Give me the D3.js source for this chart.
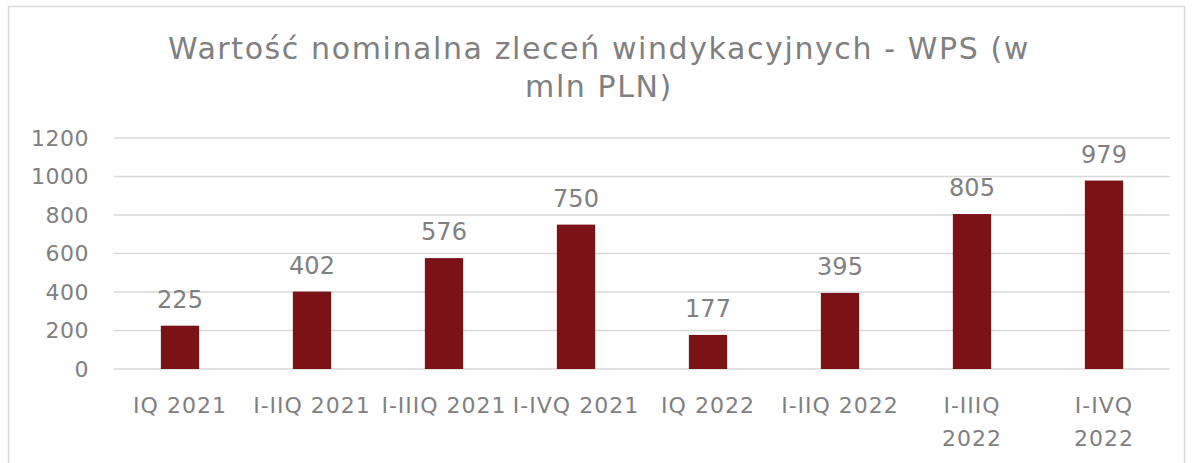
<!DOCTYPE html>
<html>
<head>
<meta charset="utf-8">
<script src="https://cdn.jsdelivr.net/npm/d3@7"></script>
<style>
  body { margin: 0; background: #fff; }
  text { font-family: "DejaVu Sans", sans-serif; fill: #808080; }
</style>
</head>
<body>
<div id="chart"></div>
<script>
// data
var categories = ["IQ 2021", "I-IIQ 2021", "I-IIIQ 2021", "I-IVQ 2021", "IQ 2022", "I-IIQ 2022", "I-IIIQ\n2022", "I-IVQ\n2022"];
var values = [225, 402, 576, 750, 177, 395, 805, 979];
var yTicks = [0, 200, 400, 600, 800, 1000, 1200];
var titleLines = ["Wartość nominalna zleceń windykacyjnych - WPS (w", "mln PLN)"];

var width = 1192, height = 463;
var svg = d3.select("#chart").append("svg")
    .attr("width", width)
    .attr("height", height);

// outer frame
svg.append("rect")
    .attr("x", 8.5).attr("y", 6.5)
    .attr("width", 1176).attr("height", 470)
    .attr("fill", "none")
    .attr("stroke", "#d9d9d9")
    .attr("stroke-width", 1.5);

var x = d3.scaleBand()
    .domain(categories)
    .range([114, 1170])
    .paddingInner(0.71)
    .paddingOuter(0.355);

var y = d3.scaleLinear()
    .domain([0, 1200])
    .range([369, 138]);

// title
svg.append("text")
    .attr("x", 597).attr("y", 59)
    .attr("text-anchor", "middle")
    .style("font-size", "30px")
    .style("letter-spacing", "1.6px")
    .selectAll("tspan")
    .data(titleLines)
    .enter()
    .append("tspan")
    .attr("x", 599)
    .attr("dy", function (d, i) { return i === 0 ? 0 : 38; })
    .text(function (d) { return d; });

// gridlines
svg.append("g")
    .selectAll("line")
    .data(yTicks)
    .enter()
    .append("line")
    .attr("x1", 114).attr("x2", 1170)
    .attr("y1", function (d) { return y(d); })
    .attr("y2", function (d) { return y(d); })
    .attr("stroke", "#d9d9d9")
    .attr("stroke-width", 1.5);

// y axis labels
var yAxis = svg.append("g")
    .attr("transform", "translate(89,0)")
    .call(d3.axisLeft(y).tickValues(yTicks).tickFormat(d3.format("d")).tickSize(0).tickPadding(0));
yAxis.select(".domain").remove();
yAxis.selectAll("text")
    .style("font-size", "22px")
    .style("letter-spacing", "0.5px")
    .attr("fill", "#808080");

// bars
svg.append("g")
    .selectAll("rect")
    .data(values)
    .enter()
    .append("rect")
    .attr("x", function (d, i) { return x(categories[i]); })
    .attr("y", function (d) { return y(d); })
    .attr("width", x.bandwidth())
    .attr("height", function (d) { return y(0) - y(d); })
    .attr("fill", "#7b1216");

// value labels
svg.append("g")
    .selectAll("text")
    .data(values)
    .enter()
    .append("text")
    .attr("x", function (d, i) { return x(categories[i]) + x.bandwidth() / 2; })
    .attr("y", function (d) { return y(d) - 18; })
    .attr("text-anchor", "middle")
    .style("font-size", "24px")
    .text(function (d) { return d; });

// x axis labels
var xLab = svg.append("g")
    .selectAll("text")
    .data(categories)
    .enter()
    .append("text")
    .attr("text-anchor", "middle")
    .attr("y", 413)
    .style("font-size", "22px")
    .style("letter-spacing", "1px");
xLab.each(function (c) {
    var t = d3.select(this);
    var cx = x(c) + x.bandwidth() / 2;
    c.split("\n").forEach(function (line, i) {
        t.append("tspan")
            .attr("x", cx)
            .attr("dy", i === 0 ? 0 : 33)
            .text(line);
    });
});
</script>
</body>
</html>
